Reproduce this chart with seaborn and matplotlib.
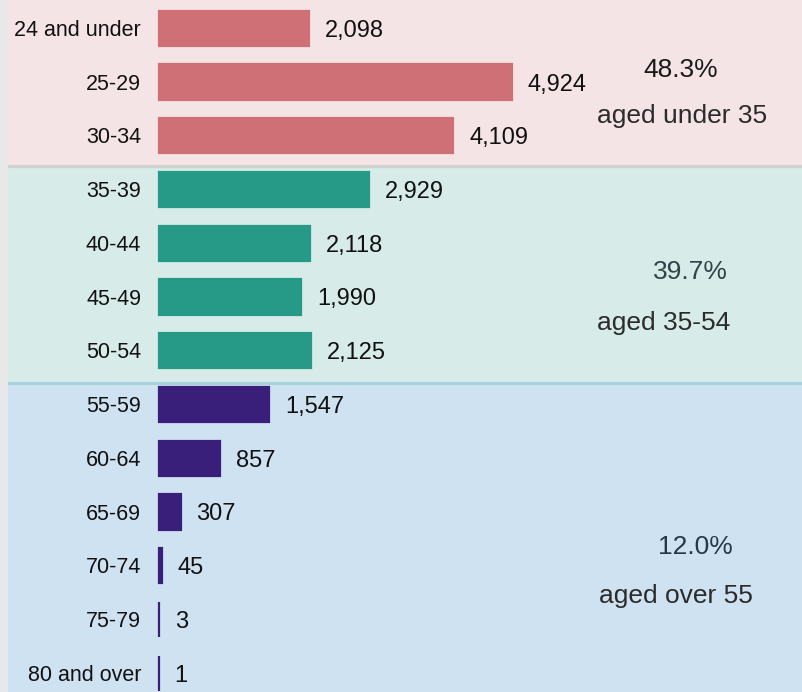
import matplotlib
matplotlib.use("Agg")
import matplotlib.pyplot as plt
import seaborn as sns
import pandas as pd

# ---- data ----
categories = ["24 and under", "25-29", "30-34", "35-39", "40-44", "45-49", "50-54",
              "55-59", "60-64", "65-69", "70-74", "75-79", "80 and over"]
counts = [2098, 4924, 4109, 2929, 2118, 1990, 2125, 1547, 857, 307, 45, 3, 1]
groups = ["under 35"] * 3 + ["35-54"] * 4 + ["over 55"] * 6
group_pct = ["48.3%", "39.7%", "12.0%"]
group_desc = ["aged under 35", "aged 35-54", "aged over 55"]

bar_colors = {"under 35": "#cf6f76", "35-54": "#269a87", "over 55": "#3a1f7a"}
band_colors = ["#f5e4e5", "#d7ebe8", "#cfe2f2"]

sns.set_theme(style="white")
plt.rcParams["font.family"] = ["Liberation Sans", "DejaVu Sans"]

df = pd.DataFrame({"age": categories, "count": counts, "group": groups})

fig = plt.figure(figsize=(8.03, 6.92), dpi=100)
fig.patch.set_facecolor("#e8e8e8")
ax = fig.add_axes([8 / 803, 0, 795 / 803, 1])

# background bands
ax.axhspan(-1, 2.553, color=band_colors[0], zorder=0, lw=0)
ax.axhspan(2.553, 6.591, color=band_colors[1], zorder=0, lw=0)
ax.axhspan(6.591, 13, color=band_colors[2], zorder=0, lw=0)
ax.axhline(2.553, color="#d3d0d0", lw=2.3, zorder=0.5)
ax.axhline(6.591, color="#a9d3dc", lw=2.3, zorder=0.5)

sns.barplot(data=df, y="age", x="count", hue="group", palette=bar_colors,
            order=categories, dodge=False, width=0.655, legend=False,
            saturation=1, linewidth=1.6, ax=ax, zorder=2)
for cont in ax.containers:
    for p in cont:
        p.set_edgecolor(p.get_facecolor())

ax.set_xlim(-2100, 8990)
ax.set_ylim(12.35, -0.527)
ax.axis("off")

for i, (cat, v) in enumerate(zip(categories, counts)):
    ax.annotate(cat, xy=(0, i), xytext=(-12.5, -5.5), textcoords="offset points",
                ha="right", va="baseline", fontsize=15.5, color="#111111")
    ax.annotate(f"{v:,}", xy=(v, i), xytext=(11.5, -6.1), textcoords="offset points",
                ha="left", va="baseline", fontsize=17, color="#111111")

W, H = 803, 692
pct_pos = [(681, 77), (690, 279), (695, 554)]
desc_pos = [(597, 123), (597, 330), (599, 603)]
pct_colors = ["#1a1a1a", "#2f4448", "#26384a"]
for t, (x, y), c in zip(group_pct, pct_pos, pct_colors):
    fig.text(x / W, 1 - y / H, t, ha="center", va="baseline", fontsize=19, color=c)
for t, (x, y) in zip(group_desc, desc_pos):
    fig.text(x / W, 1 - y / H, t, ha="left", va="baseline", fontsize=19, color="#2b2b2b")

fig.savefig("out.png", dpi=100, facecolor=fig.get_facecolor())
